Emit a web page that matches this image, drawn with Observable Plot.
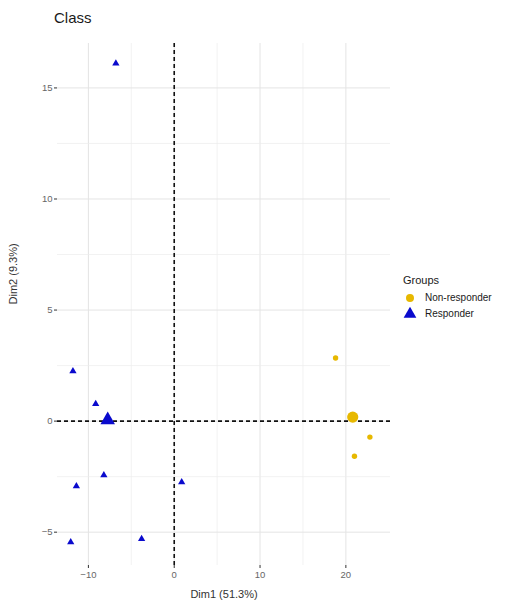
<!DOCTYPE html>
<html><head><meta charset="utf-8">
<script src="https://cdn.jsdelivr.net/npm/d3@7"></script>
<script src="https://cdn.jsdelivr.net/npm/@observablehq/plot@0.6"></script>
<style>
body{margin:0;background:#fff;font-family:"Liberation Sans",Arial,sans-serif;}
#wrap{position:relative;width:530px;height:604px;overflow:hidden;}
#title{position:absolute;left:54px;top:9px;font-size:15px;color:#1a1a1a;}
#legend{position:absolute;left:403px;top:274px;font-size:10px;color:#1a1a1a;}
#legend .lt{font-size:11px;margin-bottom:3px;}
#legend .row{display:flex;align-items:center;height:16px;}
#legend svg{margin-right:8px;}
#chart{position:absolute;left:0;top:0;}
</style></head><body>
<div id="wrap">
  <div id="chart"></div>
  <div id="title">Class</div>
  <div id="legend"></div>
</div>
<script>
// Individuals
const groups = ["Non-responder", "Responder"];
const groupColors = ["#E7B800", "#0A0ACD"];
const groupSymbols = ["circle", "triangle"];

const nonResponderX = [18.8, 22.8, 21.0];
const nonResponderY = [2.84, -0.72, -1.58];
const responderX = [-6.8, -11.8, -9.15, -8.2, -11.4, 0.87, -12.06, -3.8];
const responderY = [16.1, 2.25, 0.77, -2.43, -2.93, -2.75, -5.45, -5.3];

// Group means
const meanX = [20.8, -7.75];
const meanY = [0.18, 0.05];

// Axes
const xTicks = [-10, 0, 10, 20];
const yTicks = [-5, 0, 5, 10, 15];
const xGrid = [-10, -5, 0, 5, 10, 15, 20];
const yGrid = [-5, -2.5, 0, 2.5, 5, 7.5, 10, 12.5, 15];
const xTitle = "Dim1 (51.3%)";
const yTitle = "Dim2 (9.3%)";

const pts = [
  ...nonResponderX.map((x, i) => ({x, y: nonResponderY[i], g: groups[0]})),
  ...responderX.map((x, i) => ({x, y: responderY[i], g: groups[1]}))
];
const means = meanX.map((x, i) => ({x, y: meanY[i], g: groups[i]}));
const isNR = d => d.g === groups[0];
const isR = d => d.g === groups[1];

const chart = Plot.plot({
  width: 530,
  height: 604,
  marginLeft: 57,
  marginRight: 140,
  marginTop: 43,
  marginBottom: 39,
  style: {fontFamily: "Liberation Sans, Arial, sans-serif", background: "#fff"},
  x: {domain: [-13.6, 25.2]},
  y: {domain: [-6.5, 17.0]},
  color: {domain: groups, range: groupColors},
  symbol: {domain: groups, range: groupSymbols},
  marks: [
    Plot.ruleX(xGrid.filter(d => d % 10 === 0), {stroke: "#e4e4e4", strokeWidth: 1}),
    Plot.ruleX(xGrid.filter(d => d % 10 !== 0), {stroke: "#ececec", strokeWidth: 0.7}),
    Plot.ruleY(yGrid.filter(d => d % 5 === 0), {stroke: "#e4e4e4", strokeWidth: 1}),
    Plot.ruleY(yGrid.filter(d => d % 5 !== 0), {stroke: "#ececec", strokeWidth: 0.7}),
    Plot.ruleX([0], {stroke: "#111", strokeWidth: 1.6, strokeDasharray: "4,3"}),
    Plot.ruleY([0], {stroke: "#111", strokeWidth: 1.6, strokeDasharray: "4,3"}),
    Plot.dot(pts, {filter: isNR, x: "x", y: "y", fill: "g", symbol: "g", r: 2.7}),
    Plot.dot(pts, {filter: isR, x: "x", y: "y", fill: "g", symbol: "g", r: 2.7}),
    Plot.dot(means, {filter: isNR, x: "x", y: "y", fill: "g", symbol: "g", r: 5.6}),
    Plot.dot(means, {filter: isR, x: "x", y: "y", fill: "g", symbol: "g", r: 5.4}),
    Plot.axisX(xTicks, {tickSize: 3, tickPadding: 3, fontSize: 9.5, color: "#666", stroke: "#333", label: null}),
    Plot.axisY(yTicks, {tickSize: 3, tickPadding: 2, fontSize: 9.5, color: "#666", stroke: "#333", label: null}),
    Plot.text([xTitle], {frameAnchor: "bottom", dy: 32, fontSize: 11, fill: "#333"}),
    Plot.text([yTitle], {frameAnchor: "left", dx: -44, rotate: -90, fontSize: 11, fill: "#333"})
  ]
});
document.getElementById("chart").appendChild(chart);

// Legend
const leg = document.getElementById("legend");
const lt = document.createElement("div");
lt.className = "lt"; lt.textContent = "Groups";
leg.appendChild(lt);
groups.forEach((g, i) => {
  const row = document.createElement("div");
  row.className = "row";
  const ns = "http://www.w3.org/2000/svg";
  const s = document.createElementNS(ns, "svg");
  s.setAttribute("width", 14); s.setAttribute("height", 14);
  const p = document.createElementNS(ns, "path");
  const sym = groupSymbols[i] === "circle" ? d3.symbolCircle : d3.symbolTriangle;
  p.setAttribute("d", d3.symbol(sym, groupSymbols[i] === "circle" ? 50 : 70)());
  p.setAttribute("transform", "translate(7,8)");
  p.setAttribute("fill", groupColors[i]);
  s.appendChild(p);
  row.appendChild(s);
  const t = document.createElement("span");
  t.textContent = g;
  row.appendChild(t);
  leg.appendChild(row);
});
</script>
</body></html>
